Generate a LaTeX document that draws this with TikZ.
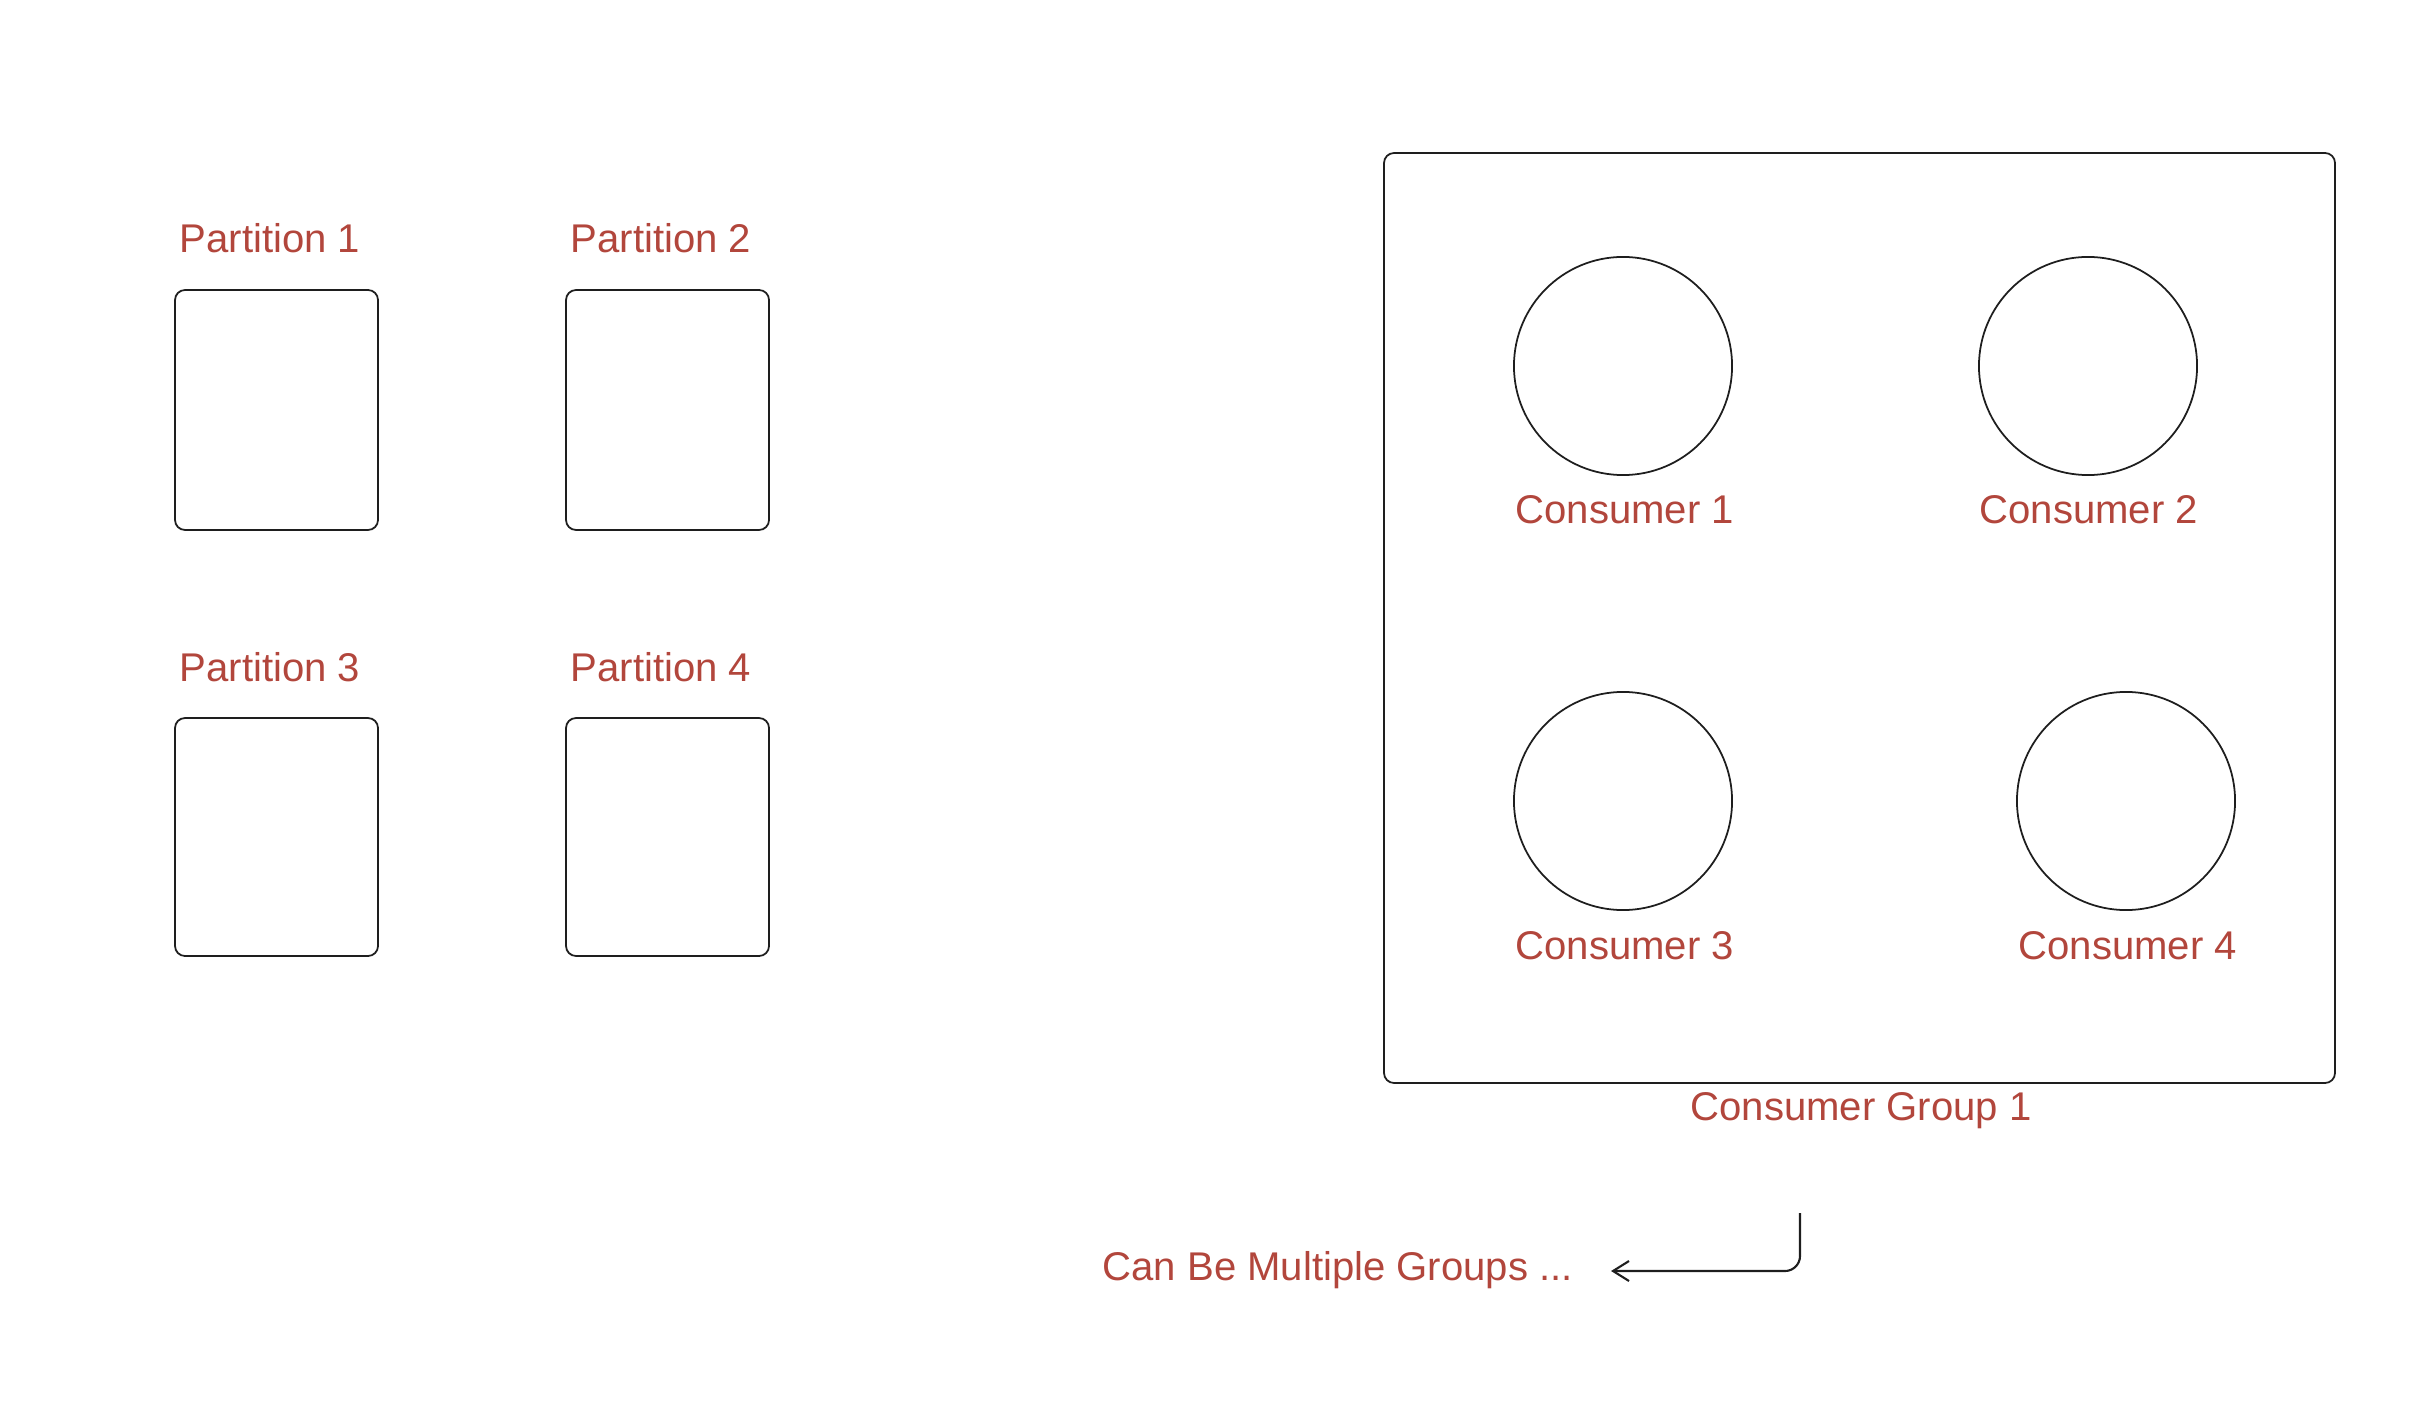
\documentclass[tikz,border=0pt]{standalone}
\usepackage{fontspec}
\setmainfont{Liberation Sans}
\usetikzlibrary{arrows.meta}
\definecolor{lblred}{RGB}{178,70,60}
\definecolor{ink}{RGB}{30,30,30}
\begin{document}
\begin{tikzpicture}[x=0.01cm,y=-0.01cm,
  box/.style={draw=ink,line width=0.5pt,rounded corners=0.1cm},
  cons/.style={draw=ink,line width=0.5pt,circle,minimum size=2.18cm,inner sep=0pt},
  lbl/.style={text=lblred,font=\fontsize{11.4pt}{13pt}\selectfont,anchor=base west,inner sep=0pt},
  arr/.style={draw=ink,line width=0.6pt,rounded corners=0.15cm,-{Straight Barb[length=1.6mm,width=2.0mm]}}]
\useasboundingbox (0,0) rectangle (2416,1428);
% partitions
\draw[box] (175,290) rectangle (378,530);
\draw[box] (566,290) rectangle (769,530);
\draw[box] (175,718) rectangle (378,956);
\draw[box] (566,718) rectangle (769,956);
\node[lbl] (p1) at (179,253) {Partition 1};
\node[lbl] (p2) at (570,253) {Partition 2};
\node[lbl] (p3) at (179,681) {Partition 3};
\node[lbl] (p4) at (570,681) {Partition 4};
% consumer group
\draw[box] (1384,153) rectangle (2335,1083);
\node[cons] (c1) at (1623,366) {};
\node[cons] (c2) at (2088,366) {};
\node[cons] (c3) at (1623,801) {};
\node[cons] (c4) at (2126,801) {};
\node[lbl] (l1) at (1515,524) {Consumer 1};
\node[lbl] (l2) at (1979,524) {Consumer 2};
\node[lbl] (l3) at (1515,959) {Consumer 3};
\node[lbl] (l4) at (2018,959) {Consumer 4};
\node[lbl] (g1) at (1690,1120) {Consumer Group 1};
% multiple groups note
\node[lbl] (cbm) at (1102,1280) {Can Be Multiple Groups ...};
\coordinate (as) at (1800,1213);
\coordinate (ae) at (1611,1271);
\draw[arr] (as) |- (ae);
\end{tikzpicture}
\end{document}
